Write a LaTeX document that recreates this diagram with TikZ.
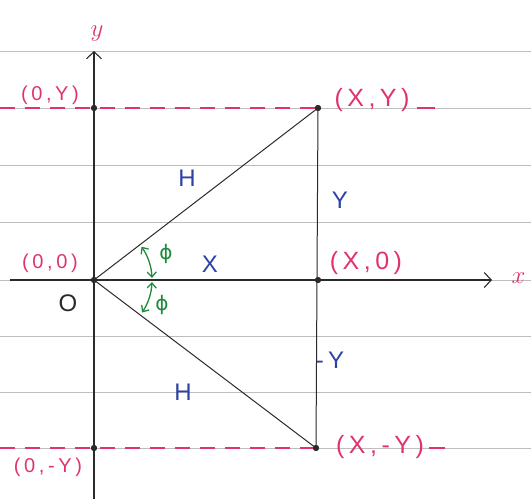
\documentclass[tikz,border=0pt]{standalone}
\usepackage{fontspec}
\setmainfont{Liberation Sans}[LetterSpace=18]
\newfontfamily\greekfont{DejaVu Sans}
\usetikzlibrary{arrows.meta}
\definecolor{ink}{HTML}{2A2A2A}
\definecolor{rose}{HTML}{E0336E}
\definecolor{cobalt}{HTML}{2E42A6}
\definecolor{leaf}{HTML}{1E8A3C}
\definecolor{ruling}{HTML}{BDBDBD}
\tikzset{pt/.style={circle,fill=ink,inner sep=0pt,minimum size=6pt},
 coord/.style={text=rose,font=\fontsize{20}{20}\selectfont,inner sep=1pt},
 bigcoord/.style={text=rose,font=\fontsize{25}{25}\selectfont,inner sep=1pt},
 len/.style={text=cobalt,font=\fontsize{24}{24}\selectfont,inner sep=1pt},
 phi/.style={text=leaf,font=\greekfont\fontsize{20}{20}\selectfont,inner sep=1pt},
 axis/.style={-{Straight Barb[length=7pt,width=15pt]},line width=1.1pt,draw=ink},
 side/.style={line width=1pt,draw=ink},
 guide/.style={draw=rose,line width=1.5pt,dash pattern=on 15pt off 10pt},
 ang/.style={{Straight Barb[length=5pt,width=9pt]}-{Straight Barb[length=5pt,width=9pt]},draw=leaf,line width=1.3pt}}
\begin{document}
\begin{tikzpicture}[x=1pt,y=1pt]
\useasboundingbox (-94,-219) rectangle (437,280);
% notebook ruling
\foreach \h in {229,172,115,58,0,-56,-112,-168}
  \draw[ruling,line width=0.8pt] (-94,\h) -- (437,\h);
% points
\coordinate (xl) at (-84,0);
\coordinate (xr) at (398,0);
\coordinate (yb) at (0,-219);
\coordinate (yt) at (0,229);
\coordinate (AL) at (-94,172);
\coordinate (BL) at (-94,-168);
\node[pt] (O) at (0,0) {};
\node[pt] (A) at (0,172) {};
\node[pt] (B) at (0,-168) {};
\node[pt] (P) at (224,172) {};
\node[pt] (Q) at (224,0) {};
\node[pt] (R) at (222,-168) {};
% labels
\node[coord] (lA) at (-44,185) {(0,Y)};
\node[coord] (lO) at (-44,17) {(0,0)};
\node[coord] (lB) at (-46,-187) {(0,-Y)};
\node[text=ink,font=\fontsize{24}{24}\selectfont] (lo) at (-26,-23) {O};
\node[bigcoord] (lP) at (278,180) {(X,Y)};
\node[bigcoord] (lQ) at (272,17) {(X,0)};
\node[bigcoord] (lR) at (286,-167) {(X,-Y)};
\node[text=rose,font=\fontsize{34}{34}\selectfont] (ly) at (3,246) {$y$};
\node[text=rose,font=\fontsize{28}{28}\selectfont,anchor=west] (lx) at (414,2) {$x$};
\node[len] (h1) at (93,102) {H};
\node[len] (h2) at (89,-112) {H};
\node[len] (sx) at (116,16) {X};
\node[len] (sy) at (246,80) {Y};
\node[len] (sny) at (236,-80) {-Y};
\node[phi] (f1) at (72,26) {ϕ};
\node[phi] (f2) at (68,-25) {ϕ};
% axes and triangle
\draw[axis] (xl) -- (xr);
\draw[axis] (yb) -- (yt);
\draw[side] (O.center) -- (P.center) -- (R.center) -- (O.center);
\draw[guide] (AL) -- (P.center);
\draw[guide] (BL) -- (R.center);
\draw[draw=rose,line width=1.5pt] ([xshift=6pt]lP.east |- P) -- ++(18,0);
\draw[draw=rose,line width=1.5pt] ([xshift=4pt]lR.east |- R) -- ++(16,0);
% angles
\draw[ang] ([shift={(35:58)}]O.center) arc[start angle=35,end angle=2,radius=58];
\draw[ang] ([shift={(-2:58)}]O.center) arc[start angle=-2,end angle=-34,radius=58];
% dots on top
\foreach \p in {O,A,B,P,Q,R} \fill[ink] (\p) circle (3pt);
\end{tikzpicture}
\end{document}
